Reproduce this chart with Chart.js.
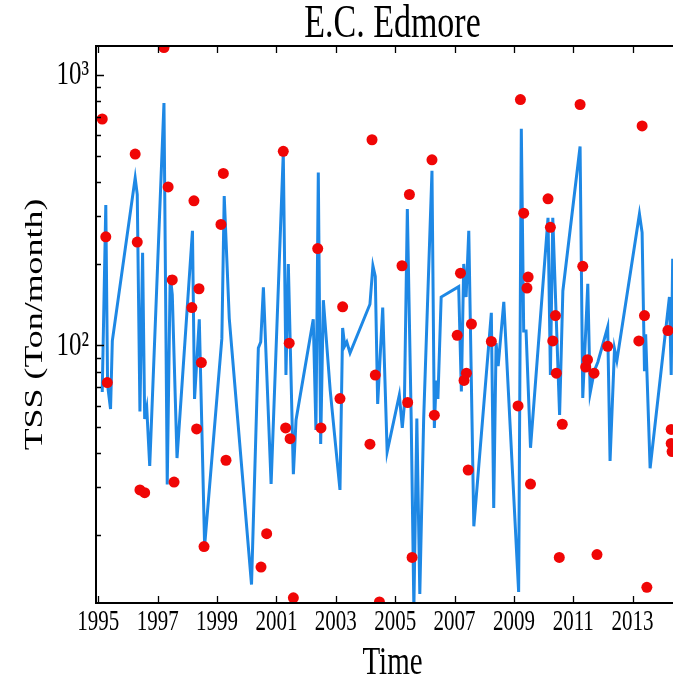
<!DOCTYPE html>
<html>
<head>
<meta charset="utf-8">
<script src="https://cdn.jsdelivr.net/npm/chart.js@4.4.1/dist/chart.umd.min.js"></script>
<style>
  html, body { margin: 0; padding: 0; overflow: hidden; background: #fff; }
  #wrap { position: absolute; left: 0; top: 0; width: 700px; height: 677px; }
</style>
</head>
<body>
<div id="wrap"><canvas id="c"></canvas></div>
<script>
// ---- Data ----
const titleText = 'E.C. Edmore';
const xTitle = 'Time';
const yTitle = 'TSS (Ton/month)';

const xTickValues = [1995, 1997, 1999, 2001, 2003, 2005, 2007, 2009, 2011, 2013];
const yTickValues = [100, 1000];
const yTickLabels = ['10\u00B2', '10\u00B3'];

// simulated series (blue line)
const lineYears = [1995.13, 1995.25, 1995.31, 1995.41, 1995.47, 1996.24, 1996.31, 1996.40, 1996.49, 1996.56, 1996.63, 1996.73,
  1997.21, 1997.32, 1997.42, 1997.49, 1997.65, 1998.17, 1998.24, 1998.40, 1998.58, 1999.16, 1999.24, 1999.41,
  2000.16, 2000.39, 2000.47, 2000.56, 2000.82, 2001.23, 2001.32, 2001.40, 2001.57, 2001.66,
  2002.24, 2002.33, 2002.41, 2002.49, 2002.58, 2002.81, 2003.14, 2003.23, 2003.30, 2003.37, 2003.48,
  2004.15, 2004.25, 2004.33, 2004.41, 2004.58, 2004.73, 2005.14, 2005.24, 2005.31, 2005.41, 2005.54, 2005.63, 2005.73, 2005.83, 2005.96,
  2006.24, 2006.32, 2006.38, 2006.44, 2006.55, 2007.14, 2007.23, 2007.31, 2007.39, 2007.48, 2007.65,
  2008.24, 2008.32, 2008.40, 2008.47, 2008.66, 2009.16, 2009.25, 2009.33, 2009.41, 2009.56,
  2010.15, 2010.23, 2010.31, 2010.54, 2010.65, 2011.23, 2011.32, 2011.49, 2011.57, 2011.71, 2011.83,
  2012.16, 2012.24, 2012.39, 2012.47, 2013.23, 2013.32, 2013.40, 2013.44, 2013.59, 2014.24, 2014.30, 2014.35, 2014.50];
const lineTSS = [67.3, 330, 71.5, 58.3, 104, 416, 361, 57.1, 220, 53.5, 58.8, 35.9,
  786, 30.7, 182, 154, 38.4, 265, 63.5, 125, 18.2, 106, 356, 126,
  13.1, 97.9, 103, 164, 30.8, 514, 77.8, 200, 33.5, 53.1,
  125, 48.8, 435, 43.3, 147, 68.5, 29.3, 116, 99.6, 103, 93.8,
  142, 197, 180, 60.8, 138, 40.5, 65.7, 49.6, 60.5, 319, 53.6, 10.7, 53.8, 12.1, 53.6,
  442, 49.6, 74.2, 63.5, 151, 165, 67.6, 200, 151, 265, 21.5,
  132, 25.1, 102, 84, 145, 12.3, 631, 113, 113, 41.9,
  296, 77.8, 296, 55.4, 159, 543, 64, 169, 66.8, 80.5, 86.9,
  117, 37.5, 97.1, 88, 306, 261, 80.3, 110, 35.2, 151, 77.8, 209, 90];

// observed samples (red dots)
const obsYears = [1995.13, 1995.25, 1995.30, 1996.24, 1996.31, 1996.40, 1996.56, 1997.21, 1997.35, 1997.49, 1997.55,
  1998.15, 1998.22, 1998.31, 1998.39, 1998.47, 1998.56, 1999.13, 1999.21, 1999.30, 2000.48, 2000.67,
  2001.23, 2001.31, 2001.43, 2001.46, 2001.57, 2002.39, 2002.50, 2003.14, 2003.23, 2004.15, 2004.22, 2004.33, 2004.47,
  2005.23, 2005.42, 2005.48, 2005.57, 2006.24, 2006.32, 2007.09, 2007.20, 2007.32, 2007.40, 2007.46, 2007.57,
  2008.24, 2009.14, 2009.22, 2009.33, 2009.44, 2009.48, 2009.56, 2010.15, 2010.23, 2010.31, 2010.40, 2010.43, 2010.53, 2010.63,
  2011.23, 2011.32, 2011.42, 2011.48, 2011.70, 2011.80, 2012.16, 2013.21, 2013.32, 2013.40, 2013.48,
  2014.19, 2014.30, 2014.30, 2014.33];
const obsTSS = [686, 252, 73, 509, 241, 29.3, 28.6, 1259, 385, 174.6, 31.3,
  138, 342, 49.2, 162, 86.5, 18.1, 280, 432, 37.7, 15.2, 20.2,
  521, 49.6, 102, 45.3, 11.7, 228, 49.6, 63.7, 139, 43.2, 575, 77.8, 11.3,
  197, 61.6, 361, 16.5, 485, 55.3, 109, 185, 74.3, 79, 34.7, 120,
  103.5, 59.8, 809, 308, 163, 179, 30.8, 348, 273, 104, 129, 79, 16.5, 51.2,
  776, 196, 83.3, 88.6, 79, 16.9, 99.3, 104, 647, 129, 12.8,
  113.6, 49, 43.5, 40.6];

// ---- Chart ----
const SERIF = "'Liberation Serif', 'Times New Roman', serif";
const TEXT_STRETCH = 1.38; // the reference lettering is vertically elongated

function installTextStretch(ctx, k) {
  const orig = ctx.fillText;
  ctx.fillText = function (text, x, y, maxWidth) {
    const m = this.getTransform();
    const tm = this.measureText(text);
    const cy = y + (tm.actualBoundingBoxDescent - tm.actualBoundingBoxAscent) / 2;
    const px = m.a * x + m.c * cy + m.e;
    const py = m.b * x + m.d * cy + m.f;
    this.save();
    this.setTransform(new DOMMatrix().translate(px, py).scale(1, k).translate(-px, -py).multiply(m));
    if (maxWidth === undefined || maxWidth === null) orig.call(this, text, x, y);
    else orig.call(this, text, x, y, maxWidth);
    this.restore();
  };
}

const framePlugin = {
  id: 'frame',
  afterDraw(chart) {
    const { ctx, chartArea: a, scales: { x, y } } = chart;
    ctx.save();
    ctx.strokeStyle = '#000';
    ctx.lineWidth = 2;
    ctx.beginPath();
    ctx.rect(a.left, a.top, a.right - a.left, a.bottom - a.top);
    ctx.stroke();
    ctx.lineWidth = 1.3;
    ctx.beginPath();
    xTickValues.forEach(v => {
      const px = Math.round(x.getPixelForValue(v)) + 0.5;
      ctx.moveTo(px, a.bottom); ctx.lineTo(px, a.bottom - 7);
      ctx.moveTo(px, a.top); ctx.lineTo(px, a.top + 7);
    });
    for (let e = 1; e <= 3; e++) {
      for (let m = 1; m <= 9; m++) {
        const v = m * Math.pow(10, e);
        if (v < y.min || v > y.max) continue;
        const py = Math.round(y.getPixelForValue(v)) + 0.5;
        const len = m === 1 ? 8 : 5;
        ctx.moveTo(a.left, py); ctx.lineTo(a.left + len, py);
        ctx.moveTo(a.right, py); ctx.lineTo(a.right - len, py);
      }
    }
    ctx.stroke();
    ctx.restore();
  }
};

const canvas = document.getElementById('c');
const ctx2d = canvas.getContext('2d');
installTextStretch(ctx2d, TEXT_STRETCH);

new Chart(ctx2d, {
  type: 'scatter',
  data: {
    datasets: [
      {
        label: 'Observed',
        data: obsYears.map((t, i) => ({ x: t, y: obsTSS[i] })),
        showLine: false,
        pointRadius: 5.5,
        pointHoverRadius: 5.5,
        pointBackgroundColor: 'rgb(240,6,6)',
        pointBorderWidth: 0,
        clip: 0
      },
      {
        label: 'Simulated',
        data: lineYears.map((t, i) => ({ x: t, y: lineTSS[i] })),
        showLine: true,
        borderColor: 'rgb(30,136,229)',
        borderWidth: 3,
        pointRadius: 0,
        tension: 0,
        clip: 0
      }
    ]
  },
  options: {
    responsive: true,
    maintainAspectRatio: false,
    animation: false,
    devicePixelRatio: 1,
    layout: { padding: { left: 0, right: 11, top: 0, bottom: 0 } },
    plugins: {
      legend: { display: false },
      tooltip: { enabled: false },
      title: {
        display: true,
        text: titleText,
        fullSize: false,
        color: '#000',
        font: { family: SERIF, size: 34, weight: 'normal', lineHeight: 1 },
        padding: { top: 7, bottom: 5 }
      }
    },
    scales: {
      x: {
        type: 'linear',
        min: 1994.92,
        max: 2014.90,
        bounds: 'data',
        afterBuildTicks: (s) => { s.ticks = xTickValues.map(v => ({ value: v })); },
        afterFit: (s) => { s.height = 74; },
        grid: { display: false, drawTicks: false },
        border: { display: false },
        ticks: {
          autoSkip: false, maxRotation: 0, padding: 6, color: '#000',
          font: { family: SERIF, size: 21 },
          callback: (v) => String(v)
        },
        title: {
          display: true, text: xTitle, color: '#000',
          font: { family: SERIF, size: 29, lineHeight: 1.0 },
          padding: { top: 0, bottom: 0 }
        }
      },
      y: {
        type: 'logarithmic',
        min: 11.2,
        max: 1276,
        bounds: 'data',
        afterBuildTicks: (s) => { s.ticks = yTickValues.map(v => ({ value: v })); },
        afterFit: (s) => { s.width = 96; },
        grid: { display: false, drawTicks: false },
        border: { display: false },
        ticks: {
          autoSkip: false, padding: 7, color: '#000',
          font: { family: SERIF, size: 25 },
          callback: (v) => yTickLabels[yTickValues.indexOf(v)] || ''
        },
        title: {
          display: true, text: yTitle, color: '#000',
          font: { family: SERIF, size: 26, lineHeight: 1.2 },
          padding: { top: 20, bottom: 0 }
        }
      }
    }
  },
  plugins: [framePlugin]
});
</script>
</body>
</html>
